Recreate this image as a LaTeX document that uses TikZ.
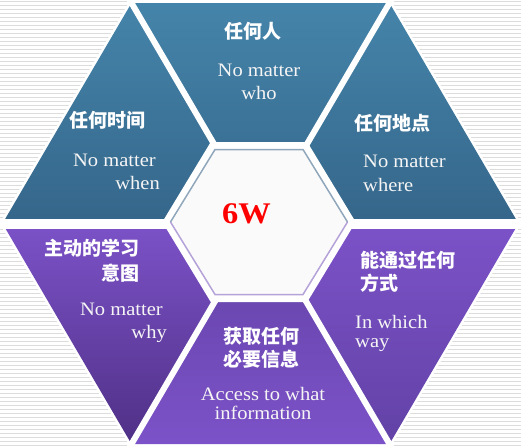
\documentclass[tikz,border=0pt]{standalone}
\usepackage{fontspec}
\newfontfamily\cjk{Noto Sans CJK SC}
\newfontfamily\en{Liberation Serif}[FakeStretch=1.08]
\definecolor{stripecol}{HTML}{DCDCDC}
\definecolor{blueA}{HTML}{4584AA}
\definecolor{blueB}{HTML}{35668A}
\definecolor{purA}{HTML}{7C52C8}
\definecolor{purB}{HTML}{4F3086}
\definecolor{purC}{HTML}{6242A6}
\definecolor{hexfill}{HTML}{FAFAFA}
\definecolor{hexblue}{HTML}{90A7BB}
\definecolor{hexpur}{HTML}{B4A2D8}
\tikzset{
  stripe/.style={stripecol, line width=1pt},
  gapline/.style={white, line width=6pt, shorten >=-4pt},
  zh/.style={text=white, font=\cjk\bfseries\fontsize{19}{23}\selectfont, inner sep=0pt},
  en/.style={text=white!96!black, font=\en\fontsize{19}{23}\selectfont, inner sep=0pt},
}
\begin{document}
\begin{tikzpicture}[x=1pt,y=-1pt]
\useasboundingbox (0,0) rectangle (521,447);
% striped background
\foreach \y in {1,5,...,445} \draw[stripe] (0,\y) -- (521,\y);
% outer hexagon corners
\coordinate (C) at (260.5,223.5);
\coordinate (L) at (2.5,223.5);
\coordinate (R) at (518.5,223.5);
\coordinate (TL) at (131.5,3);
\coordinate (TR) at (389.5,3);
\coordinate (BL) at (131.5,444);
\coordinate (BR) at (389.5,444);
\filldraw[white, line width=5pt, line join=miter] (L)--(TL)--(TR)--(R)--(BR)--(BL)--cycle;
% six triangles
\shade[top color=blueA, bottom color=blueB] (L)--(TL)--(C)--cycle;
\shade[top color=blueA, bottom color=blueB] (TL)--(TR)--(C)--cycle;
\shade[top color=blueA, bottom color=blueB] (TR)--(R)--(C)--cycle;
\shade[shading=axis, shading angle=-30, top color=purA, bottom color=purB] (BL)--(L)--(C)--cycle;
\shade[top color=purC, bottom color=purA] (BL)--(BR)--(C)--cycle;
\shade[shading=axis, shading angle=30, top color=purA, bottom color=purC] (R)--(BR)--(C)--cycle;
% white gaps
\draw[gapline] (C)--(TL);
\draw[gapline] (C)--(TR);
\draw[gapline] (C)--(BL);
\draw[gapline] (C)--(BR);
\draw[white, line width=10pt, shorten >=-4pt, shorten <=-4pt] (L)--(R);
% centre hexagon
\filldraw[fill=hexfill, draw=white, line width=8pt, line join=miter]
  (167,222)--(213,146)--(305,146)--(351,222)--(305,298)--(213,298)--cycle;
\draw[hexblue, line width=1.5pt] (170.5,222)--(215,149.5)--(303,149.5)--(347.5,222);
\draw[hexpur, line width=1.5pt] (347.5,222)--(303,294.5)--(215,294.5)--(170.5,222);
\node[text=red, font=\en\bfseries\fontsize{30}{34}\selectfont, inner sep=0pt] (sixw) at (246.5,213.5) {6W};
% texts
\node[zh] (who-zh) at (253,31) {任何人};
\node[en, align=center, anchor=north] (who-en) at (259,63.4) {No matter\\who};
\node[zh] (when-zh) at (107,120) {任何时间};
\node[en, align=right, anchor=north east] (when-en) at (160,153.4) {No matter\kern4pt\\when};
\node[zh] (where-zh) at (392,123) {任何地点};
\node[en, align=left, anchor=north west, font=\en\fontsize{19}{24}\selectfont] (where-en) at (363,154.4) {No matter\\where};
\node[zh, align=right, anchor=east, font=\cjk\bfseries\fontsize{19}{25}\selectfont] (why-zh) at (140,261) {主动的学习\\意图};
\node[en, align=right, anchor=north east] (why-en) at (167,302.4) {No matter\kern4pt\\why};
\node[zh, align=center] (info-zh) at (261,347.5) {获取任何\\必要信息};
\node[en, align=center, anchor=north, font=\en\fontsize{19}{19}\selectfont] (info-en) at (263,387) {Access to what\\information};
\node[zh, align=left, anchor=west, font=\cjk\bfseries\fontsize{19}{23.5}\selectfont] (way-zh) at (360,271.8) {能通过任何\\方式};
\node[en, align=left, anchor=north west, font=\en\fontsize{19}{19}\selectfont] (way-en) at (355,315) {In which\\way};
\end{tikzpicture}
\end{document}
